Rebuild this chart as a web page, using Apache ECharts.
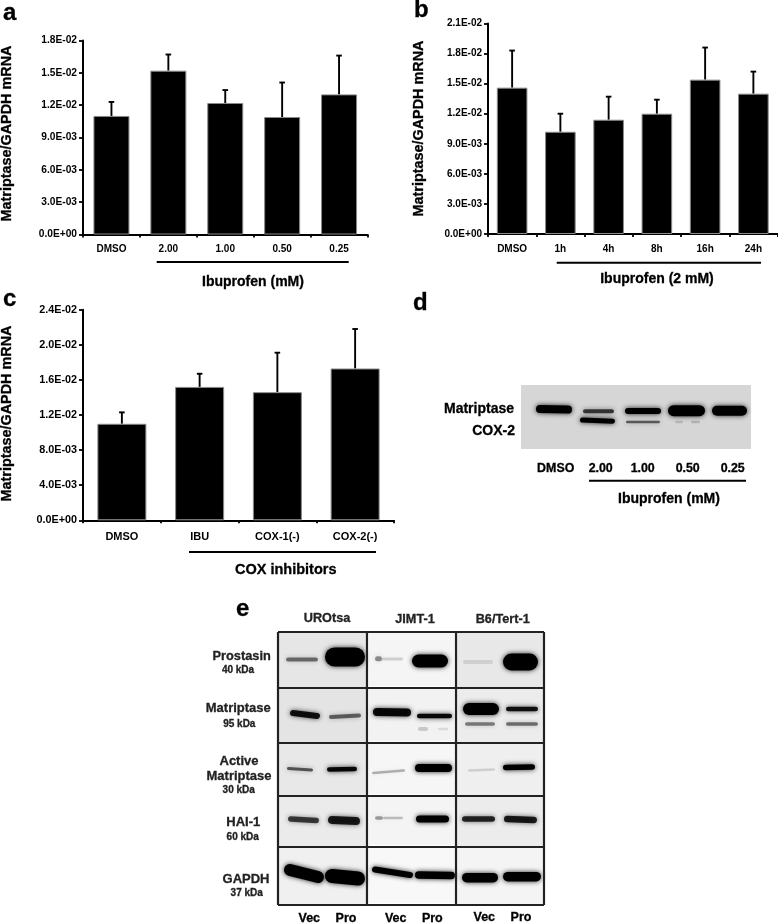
<!DOCTYPE html>
<html>
<head>
<meta charset="utf-8">
<style>
  html, body { margin: 0; padding: 0; background: #fff; }
  #main { width: 778px; height: 924px; }
</style>
<script src="https://cdn.jsdelivr.net/npm/echarts@6/dist/echarts.min.js"></script>
</head>
<body>
<div id="main"></div>
<script>
// panel a
const catsA = ['DMSO', '2.00', '1.00', '0.50', '0.25'];
const valsA = [0.0110, 0.0152, 0.0122, 0.0109, 0.0130];
const errTopA = [0.0123, 0.0167, 0.0134, 0.0141, 0.0166];
const ticksA = ['0.0E+00', '3.0E-03', '6.0E-03', '9.0E-03', '1.2E-02', '1.5E-02', '1.8E-02'];
// panel b
const catsB = ['DMSO', '1h', '4h', '8h', '16h', '24h'];
const valsB = [0.0146, 0.0102, 0.0114, 0.0120, 0.0154, 0.0140];
const errTopB = [0.0183, 0.0120, 0.0137, 0.0134, 0.0186, 0.0162];
const ticksB = ['0.0E+00', '3.0E-03', '6.0E-03', '9.0E-03', '1.2E-02', '1.5E-02', '1.8E-02', '2.1E-02'];
// panel c
const catsC = ['DMSO', 'IBU', 'COX-1(-)', 'COX-2(-)'];
const valsC = [0.0110, 0.0152, 0.0146, 0.0173];
const errTopC = [0.0123, 0.0167, 0.0191, 0.0218];
const ticksC = ['0.0E+00', '4.0E-03', '8.0E-03', '1.2E-02', '1.6E-02', '2.0E-02', '2.4E-02'];
// panel d blot: [from, to, middle at left, thickness, darkness, middle at right] in gel units
const bandsD = [
  [15, 51, 24, 8, 1, 24.6],
  [62, 93, 26.3, 4, 0.7, 26.3], [59, 94, 35, 5, 1, 36.2],
  [104, 140, 26, 6, 1, 26], [105, 139, 37, 2.5, 0.55, 37],
  [147, 184, 25.7, 11, 1, 25.7], [154, 162, 37, 2.5, 0.14, 37], [170, 179, 37, 2.5, 0.16, 37],
  [191, 226, 25.7, 10, 1, 25.7]
];
const lanesD = ['DMSO', '2.00', '1.00', '0.50', '0.25'];
// panel e blot, same band format
const colEdgesE = [0, 89, 178, 266];
const rowEdgesE = [0, 56, 111, 164, 215, 273];
const cellGreysE = [
  ['#e6e6e6', '#f5f5f5', '#e8e8e8'],
  ['#e4e4e4', '#f2f2f2', '#ececec'],
  ['#e8e8e8', '#f6f6f6', '#efefef'],
  ['#ebebeb', '#f4f4f4', '#ececec'],
  ['#f0f0f0', '#f8f8f8', '#f4f4f4']
];
const bandsE = [
  [8, 40, 27.5, 4, 0.5, 27.5], [47, 87, 25, 19, 1, 25], [97, 104, 26.7, 5, 0.4, 26.7], [104, 125, 27, 3, 0.15, 27], [134, 170, 29, 13, 1, 29], [185, 215, 30, 4, 0.1, 30], [225, 260, 30, 17, 1, 30],
  [12, 42, 81, 6, 0.9, 84], [51, 83, 85, 4, 0.55, 83.5], [95, 133, 80, 8, 0.95, 80.5], [139, 174, 84, 4.5, 0.95, 84], [140, 150, 97, 4, 0.16, 97], [160, 170, 97, 2.5, 0.1, 97], [185, 221, 77, 12, 1, 77], [187, 217, 92, 3.5, 0.45, 92], [228, 260, 77, 4.5, 0.9, 77], [228, 260, 92, 3.5, 0.5, 92],
  [9, 35, 136.5, 3, 0.6, 138], [49, 79, 137.5, 4.5, 0.95, 137], [94, 127, 141, 2.5, 0.28, 138.5], [137, 174, 136, 8, 1, 136], [190, 217, 138.5, 2.5, 0.13, 137.5], [225, 257, 135.5, 5.5, 1, 135],
  [10, 41, 187, 5.5, 0.7, 188.5], [50, 82, 188, 8, 0.85, 189], [97, 105, 186, 3.5, 0.35, 186], [105, 125, 186, 2.5, 0.22, 186], [138, 171, 187, 7, 1, 187], [184, 217, 187, 5.5, 0.8, 187], [226, 259, 187, 6.5, 0.85, 188],
  [6, 46, 238, 12, 1, 245], [47, 87, 244, 14, 1, 246.5], [94, 135, 237.5, 6, 1, 243], [137, 177, 243, 7.5, 1, 243.5], [184, 220, 245.7, 9.5, 1, 245.7], [225, 263, 244.7, 9.5, 1, 244.7]
];

const FONT = '"Liberation Sans", Arial, sans-serif';
const chart = echarts.init(document.getElementById('main'), null, { renderer: 'canvas' });

function errorBars(gridIdx, vals, tops) {
  return {
    type: 'custom',
    xAxisIndex: gridIdx,
    yAxisIndex: gridIdx,
    silent: true,
    z: 1,
    data: vals.map((v, i) => [i, v, tops[i]]),
    renderItem(params, api) {
      const bottom = api.coord([api.value(0), api.value(1)]);
      const top = api.coord([api.value(0), api.value(2)]);
      const st = { stroke: '#000', lineWidth: 1.9 };
      return {
        type: 'group',
        children: [
          { type: 'line', shape: { x1: top[0], y1: bottom[1], x2: top[0], y2: top[1] }, style: st },
          { type: 'line', shape: { x1: top[0] - 2.8, y1: top[1], x2: top[0] + 2.8, y2: top[1] }, style: st }
        ]
      };
    }
  };
}

function barSeries(gridIdx, vals, width) {
  return {
    type: 'bar',
    xAxisIndex: gridIdx,
    yAxisIndex: gridIdx,
    data: vals,
    barWidth: width,
    silent: true,
    z: 2,
    itemStyle: { color: '#000', borderColor: '#8a8a8a', borderWidth: 1 }
  };
}

function blotBackground(gridIdx, cells) {
  return {
    type: 'custom',
    xAxisIndex: gridIdx,
    yAxisIndex: gridIdx,
    silent: true,
    z: 1,
    data: cells,
    renderItem(params, api) {
      const a = api.coord([api.value(0), api.value(2)]);
      const b = api.coord([api.value(1), api.value(3)]);
      return {
        type: 'rect',
        shape: { x: a[0], y: a[1], width: b[0] - a[0], height: b[1] - a[1] },
        style: { fill: cells[params.dataIndex][4] }
      };
    }
  };
}

function blotBands(gridIdx, bands) {
  return {
    type: 'custom',
    xAxisIndex: gridIdx,
    yAxisIndex: gridIdx,
    silent: true,
    z: 2,
    data: bands,
    renderItem(params, api) {
      const a = api.coord([api.value(0), api.value(2)]);
      const b = api.coord([api.value(1), api.value(5)]);
      const h = api.size([0, api.value(3)])[1];
      const dark = api.value(4);
      // round caps stick out by half the thickness
      const pad = Math.min(h / 2, (b[0] - a[0]) / 2);
      return {
        type: 'line',
        shape: { x1: a[0] + pad, y1: a[1], x2: b[0] - pad, y2: b[1] },
        style: {
          stroke: 'rgba(0,0,0,' + dark + ')',
          lineWidth: h,
          lineCap: 'round',
          shadowBlur: 5,
          shadowColor: 'rgba(0,0,0,' + dark * 0.85 + ')'
        }
      };
    }
  };
}

function frameLines(gridIdx) {
  const segs = [];
  rowEdgesE.forEach(r => segs.push([0, r, 266, r]));
  colEdgesE.forEach(c => segs.push([c, 0, c, 273]));
  return {
    type: 'custom',
    xAxisIndex: gridIdx,
    yAxisIndex: gridIdx,
    silent: true,
    z: 3,
    data: segs,
    renderItem(params, api) {
      const a = api.coord([api.value(0), api.value(1)]);
      const b = api.coord([api.value(2), api.value(3)]);
      return {
        type: 'line',
        shape: { x1: a[0], y1: a[1], x2: b[0], y2: b[1] },
        style: { stroke: '#222', lineWidth: 2.2 }
      };
    }
  };
}

function catAxis(gridIdx, cats, fontSize, margin) {
  return {
    type: 'category',
    gridIndex: gridIdx,
    data: cats,
    axisLine: { lineStyle: { color: '#000', width: 2 } },
    axisTick: { show: true, length: 3, lineStyle: { color: '#000', width: 1.8 } },
    axisLabel: { color: '#000', fontFamily: FONT, fontWeight: 'bold', fontSize: fontSize, margin: margin, interval: 0 }
  };
}

function valAxis(gridIdx, ticks, step, fontSize) {
  return {
    type: 'value',
    gridIndex: gridIdx,
    min: 0,
    max: step * (ticks.length - 1),
    interval: step,
    splitLine: { show: false },
    axisLine: { show: true, onZero: false, lineStyle: { color: '#000', width: 2 } },
    axisTick: { show: true, length: 4, lineStyle: { color: '#000', width: 1.8 } },
    axisLabel: {
      color: '#000', fontFamily: FONT, fontWeight: 'bold', fontSize: fontSize, margin: 6,
      formatter: v => ticks[Math.round(v / step)]
    }
  };
}

function hiddenX(gridIdx, max) {
  return { type: 'value', gridIndex: gridIdx, min: 0, max: max, show: false };
}
function hiddenY(gridIdx, max) {
  return { type: 'value', gridIndex: gridIdx, min: 0, max: max, inverse: true, show: false };
}

function txt(text, x, y, size, extra) {
  const fill = (extra && extra.fill) || '#000';
  return {
    type: 'text',
    x: x,
    y: y,
    rotation: extra && extra.rot ? extra.rot : 0,
    silent: true,
    style: {
      text: text,
      fontFamily: FONT,
      fontWeight: 'bold',
      fontSize: size,
      fill: fill,
      stroke: fill,
      lineWidth: 0.3,
      align: (extra && extra.align) || 'center',
      verticalAlign: 'middle'
    }
  };
}
function rule(x1, x2, y) {
  return { type: 'line', silent: true, shape: { x1: x1, y1: y, x2: x2, y2: y }, style: { stroke: '#000', lineWidth: 2 } };
}

const dCells = [[0, 230, 0, 64, '#d6d6d6']];
const eCells = [];
cellGreysE.forEach((row, r) => row.forEach((g, c) => {
  // the middle column was pasted in with a thin white margin
  const inset = c === 1 ? 2 : 0;
  eCells.push([colEdgesE[c] + inset, colEdgesE[c + 1] - inset, rowEdgesE[r], rowEdgesE[r + 1] - inset, g]);
}));

const lanesDx = [555.7, 600.7, 642.7, 687.7, 732.7];
const labels = [
  txt('a', 3, 13, 24, { align: 'left' }),
  txt('b', 414, 10, 24, { align: 'left' }),
  txt('c', 3, 299, 24, { align: 'left' }),
  txt('d', 413, 303, 24, { align: 'left' }),
  txt('e', 236, 609, 24, { align: 'left' }),

  txt('Matriptase/GAPDH mRNA', 7, 133.5, 14.4, { rot: Math.PI / 2 }),
  txt('Matriptase/GAPDH mRNA', 419, 128.5, 14.4, { rot: Math.PI / 2 }),
  txt('Matriptase/GAPDH mRNA', 7, 413.5, 14.4, { rot: Math.PI / 2 }),

  rule(156.7, 348.7, 262), txt('Ibuprofen (mM)', 253, 281.7, 14),
  rule(556.7, 761, 262.7), txt('Ibuprofen (2 mM)', 657, 279, 14),
  rule(189, 376, 552), txt('COX inhibitors', 285.7, 570, 14.5),

  txt('Matriptase', 514, 409, 14, { align: 'right' }),
  txt('COX-2', 515, 431, 14, { align: 'right' }),
  rule(589, 746, 480.7), txt('Ibuprofen (mM)', 669, 499, 14),

  txt('UROtsa', 327, 618, 12.7, { fill: '#222' }),
  txt('JIMT-1', 415, 619, 12.7, { fill: '#222' }),
  txt('B6/Tert-1', 502.7, 619, 12.7, { fill: '#222' }),

  txt('Prostasin', 241.7, 656, 12.8, { fill: '#222' }), txt('40 kDa', 238, 670.7, 10, { fill: '#222' }),
  txt('Matriptase', 238.3, 708, 13, { fill: '#222' }), txt('95 kDa', 239.3, 724, 10, { fill: '#222' }),
  txt('Active', 239, 761, 13, { fill: '#222' }), txt('Matriptase', 239, 776, 13, { fill: '#222' }), txt('30 kDa', 238.7, 790, 10, { fill: '#222' }),
  txt('HAI-1', 243.3, 822.7, 13, { fill: '#222' }), txt('60 kDa', 242.7, 837, 10, { fill: '#222' }),
  txt('GAPDH', 246, 879.3, 13, { fill: '#222' }), txt('37 kDa', 246.7, 893, 10, { fill: '#222' }),

  txt('Vec', 309.3, 919, 12.5), txt('Pro', 346, 919, 12.5),
  txt('Vec', 395.7, 919, 12.5), txt('Pro', 432.3, 919, 12.5),
  txt('Vec', 484.3, 918, 12.5), txt('Pro', 521, 918, 12.5)
];
lanesD.forEach((name, i) => labels.push(txt(name, lanesDx[i], 469, 12.4)));

const option = {
  animation: false,
  backgroundColor: '#fff',
  graphic: { elements: labels },
  grid: [
    { left: 83, top: 40.5, width: 284.5, height: 194 },
    { left: 488, top: 23.5, width: 289.5, height: 210.5 },
    { left: 83, top: 309.7, width: 311, height: 210.6 },
    { left: 521, top: 385, width: 230, height: 64 },
    { left: 278, top: 632, width: 266, height: 273 }
  ],
  xAxis: [
    catAxis(0, catsA, 10, 10),
    catAxis(1, catsB, 10, 10),
    catAxis(2, catsC, 11, 11),
    hiddenX(3, 230),
    hiddenX(4, 266)
  ],
  yAxis: [
    valAxis(0, ticksA, 0.003, 10.2),
    valAxis(1, ticksB, 0.003, 10),
    valAxis(2, ticksC, 0.004, 10.8),
    hiddenY(3, 64),
    hiddenY(4, 273)
  ],
  series: [
    errorBars(0, valsA, errTopA), barSeries(0, valsA, 36),
    errorBars(1, valsB, errTopB), barSeries(1, valsB, 30.6),
    errorBars(2, valsC, errTopC), barSeries(2, valsC, 49),
    blotBackground(3, dCells), blotBands(3, bandsD),
    blotBackground(4, eCells), blotBands(4, bandsE), frameLines(4)
  ]
};
chart.setOption(option);
</script>
</body>
</html>
